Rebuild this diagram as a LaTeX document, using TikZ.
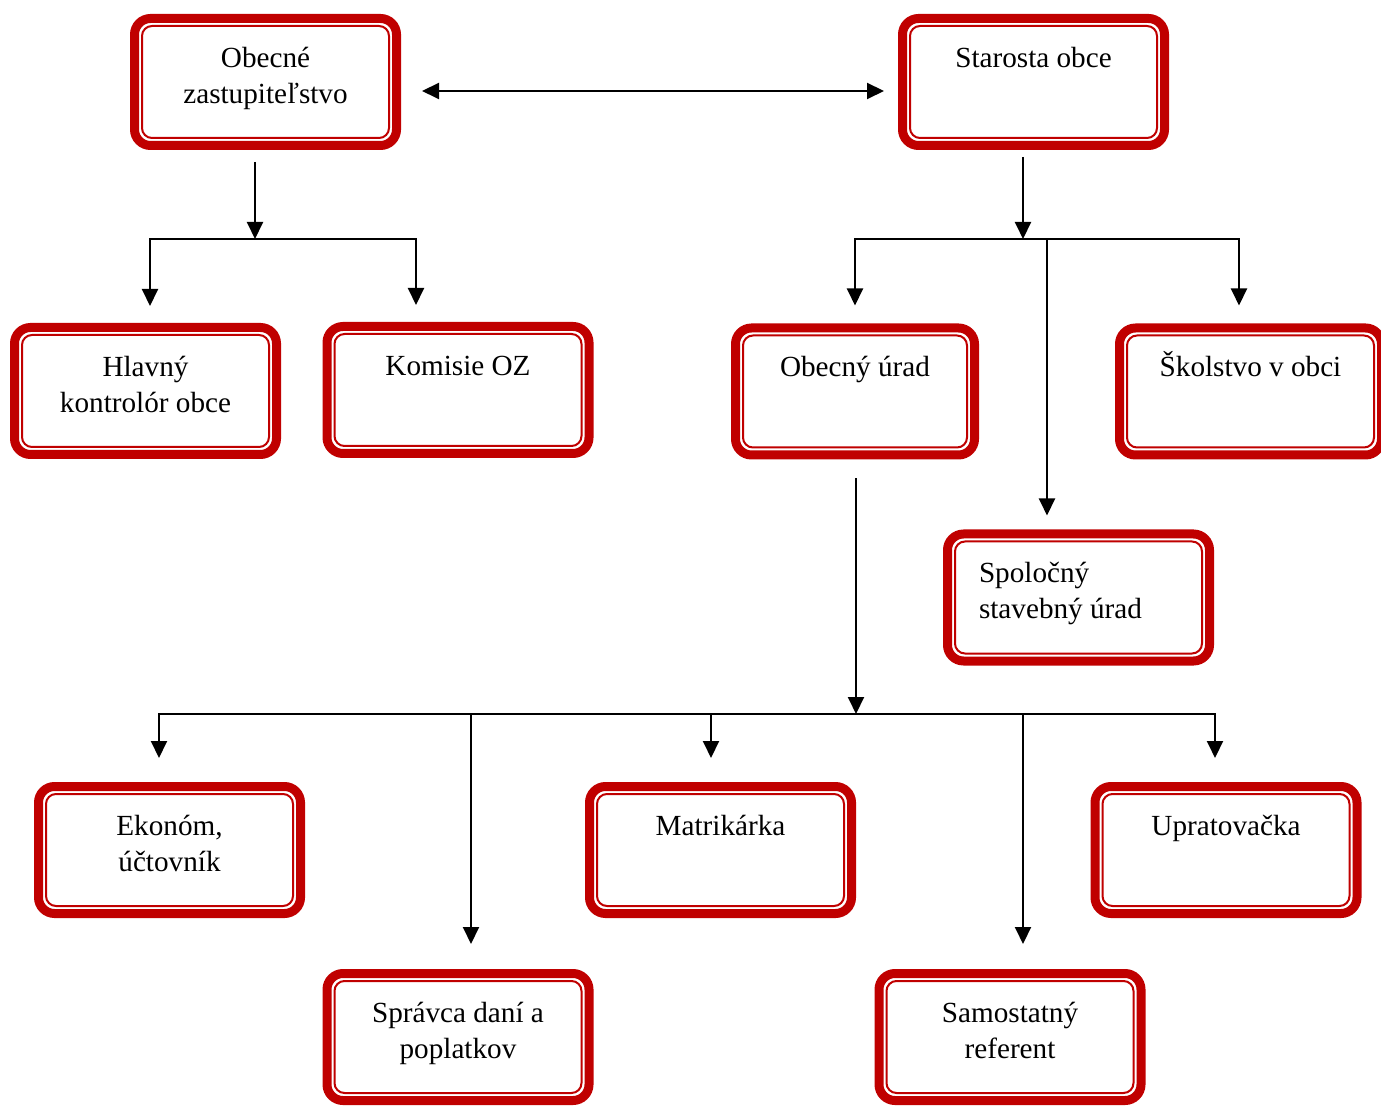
\documentclass[tikz,border=0pt]{standalone}
\usepackage{fontspec}
\setmainfont{Liberation Serif}
\usetikzlibrary{arrows.meta}
\usetikzlibrary{calc}
\definecolor{boxred}{RGB}{192,0,0}
\newcommand{\boxtext}[2][\centering]{\parbox[c][40pt][t]{110pt}{#1\strut #2}}
\tikzset{
	box/.style={draw=boxred, line width=4.5pt, rounded corners=8pt, fill=white,
		minimum width=131pt, minimum height=63.5pt, inner sep=0pt,
		font=\fontsize{14.6}{18}\selectfont,
		path picture={\draw[boxred, line width=1pt, rounded corners=5pt]
			([shift={(3.75pt,3.75pt)}]path picture bounding box.south west) rectangle
			([shift={(-3.75pt,-3.75pt)}]path picture bounding box.north east);}},
	narrow/.style={box, minimum width=119.5pt},
	arr/.style={-{Triangle[length=8.5pt,width=8pt]}, line width=1pt},
	arr2/.style={{Triangle[length=8.5pt,width=8pt]}-{Triangle[length=8.5pt,width=8pt]}, line width=1pt}
}
\begin{document}
\begin{tikzpicture}[x=0.5pt,y=-0.5pt]
\useasboundingbox (0,0) rectangle (1381,1106);
% top level
\node[box] (oz) at (265.5,82) {\boxtext{Obecné\\zastupiteľstvo}};
\node[box] (so) at (1033.5,82) {\boxtext{Starosta obce}};
% second level
\node[box] (hk) at (145.5,391) {\boxtext{Hlavný\\kontrolór obce}};
\node[box] (ko) at (458,390) {\boxtext{Komisie OZ}};
\node[narrow] (ou) at (855,391.5) {\boxtext{Obecný úrad}};
\node[box] (sk) at (1250.5,391.5) {\boxtext{Školstvo v obci}};
\node[box] (sp) at (1078.5,597.5) {\boxtext[\raggedright\leftskip=5.25pt]{Spoločný\\stavebný úrad}};
% obecny urad
\node[box] (ek) at (169.5,850) {\boxtext{Ekonóm,\\účtovník}};
\node[box] (ma) at (720.5,850) {\boxtext{Matrikárka}};
\node[box] (up) at (1226,850) {\boxtext{Upratovačka}};
\node[box] (sd) at (458,1037) {\boxtext{Správca daní a\\poplatkov}};
\node[box] (sr) at (1010,1037) {\boxtext{Samostatný\\referent}};

\coordinate (t1) at (255,239);
\coordinate (t2) at (1023,239);
\coordinate (t3) at (856,714);

\draw[arr2] ($(oz.east)+(21,9)$) -- ($(so.west)+(-14,9)$);

\draw[arr] ($(oz.south)+(-10.5,12)$) -- (t1);
\draw[arr] (t1) -| ($(hk.north)+(4.5,-17)$);
\draw[arr] (t1) -| ($(ko.north)+(-42,-17)$);

\draw[arr] ($(so.south)+(-10.5,7)$) -- (t2);
\draw[arr] (t2) -| ($(ou.north)+(0,-18)$);
\draw[arr] (t2) -| ($(sk.north)+(-11.5,-18)$);
\draw[arr] (t2) -| ($(sp.north)+(-31.5,-14)$);

\draw[arr] ($(ou.south)+(1,19)$) -- (t3);
\draw[arr] (t3) -| ($(ek.north)+(-10.5,-24)$);
\draw[arr] (t3) -| ($(sd.north)+(13,-25)$);
\draw[arr] (t3) -| ($(ma.north)+(-9.5,-24)$);
\draw[arr] (t3) -| ($(sr.north)+(13,-25)$);
\draw[arr] (t3) -| ($(up.north)+(-11,-24)$);
\end{tikzpicture}
\end{document}
